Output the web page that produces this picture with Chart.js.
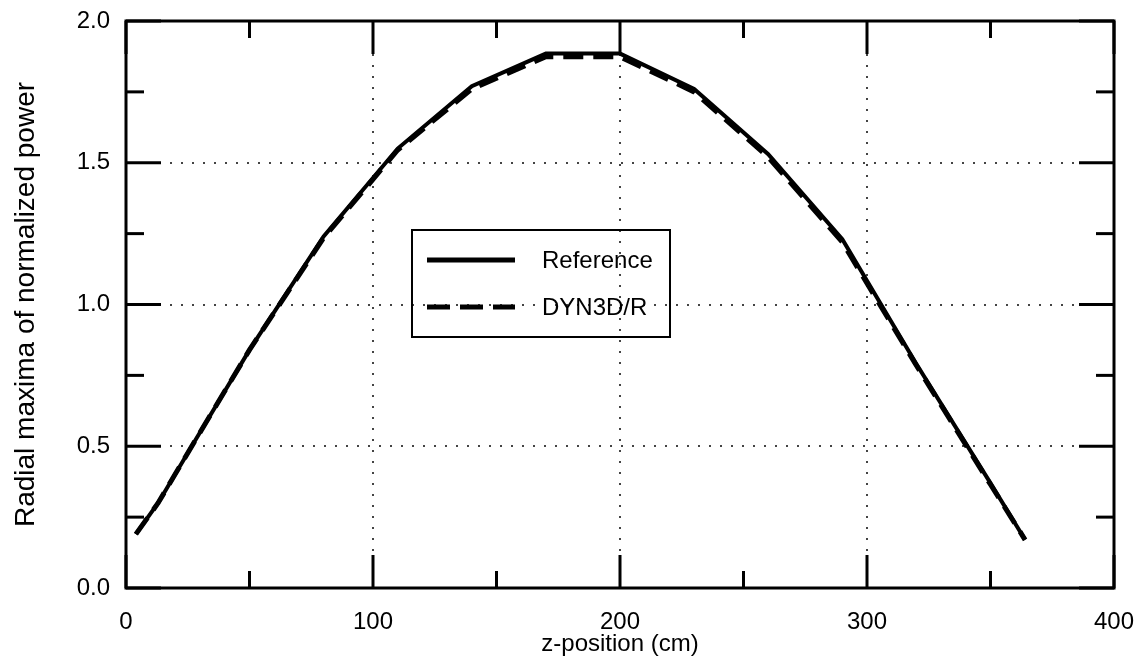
<!DOCTYPE html>
<html>
<head>
<meta charset="utf-8">
<script src="https://cdn.jsdelivr.net/npm/chart.js@4/dist/chart.umd.min.js"></script>
<style>
  html, body { margin: 0; padding: 0; background: #fff; }
  #c { display: block; }
</style>
</head>
<body>
<canvas id="c" width="1137" height="659"></canvas>
<script>
// ---- data ----
const zPositions   = [4, 13, 28, 50, 80, 110, 140, 170, 200, 230, 260, 290, 320, 350, 364];
const referenceVal = [0.19, 0.30, 0.52, 0.84, 1.24, 1.55, 1.77, 1.885, 1.885, 1.76, 1.53, 1.23, 0.79, 0.37, 0.17];
const dyn3dVal     = [0.19, 0.30, 0.52, 0.84, 1.235, 1.545, 1.76, 1.874, 1.874, 1.75, 1.52, 1.22, 0.785, 0.365, 0.17];
const seriesLabels = ["Reference", "DYN3D/R"];
const xMajorTicks  = [0, 100, 200, 300, 400];
const xMinorTicks  = [50, 150, 250, 350];
const yMajorTicks  = [0, 0.5, 1.0, 1.5, 2.0];
const yMinorTicks  = [0.25, 0.75, 1.25, 1.75];
const xGridValues  = [100, 200, 300];
const yGridValues  = [0.5, 1.0, 1.5];
const xTitle = "z-position (cm)";
const yTitle = "Radial maxima of normalized power";

const FONT = "'Liberation Sans', Arial, Helvetica, sans-serif";

function toPts(xs, ys) { return xs.map((x, i) => ({ x: x, y: ys[i] })); }

const framePlugin = {
  id: 'frame',
  beforeDatasetsDraw(chart) {
    const { ctx, chartArea: a, scales: { x, y } } = chart;
    ctx.save();
    ctx.strokeStyle = '#444';
    ctx.lineWidth = 2;
    ctx.setLineDash([2, 9]);
    xGridValues.forEach(v => {
      const px = Math.round(x.getPixelForValue(v));
      ctx.beginPath(); ctx.moveTo(px, a.top); ctx.lineTo(px, a.bottom); ctx.stroke();
    });
    yGridValues.forEach(v => {
      const py = Math.round(y.getPixelForValue(v));
      ctx.beginPath(); ctx.moveTo(a.left, py); ctx.lineTo(a.right, py); ctx.stroke();
    });
    ctx.restore();
  },
  afterDatasetsDraw(chart) {
    const { ctx, chartArea: a, scales: { x, y } } = chart;
    ctx.save();
    ctx.strokeStyle = '#000';
    ctx.setLineDash([]);
    ctx.lineWidth = 3;
    ctx.lineCap = 'butt';
    const MAJ = 33, MIN = 17;
    const vtick = (v, len) => {
      const px = x.getPixelForValue(v);
      ctx.beginPath(); ctx.moveTo(px, a.bottom); ctx.lineTo(px, a.bottom - len); ctx.stroke();
      ctx.beginPath(); ctx.moveTo(px, a.top); ctx.lineTo(px, a.top + len); ctx.stroke();
    };
    const htick = (v, len) => {
      const py = y.getPixelForValue(v);
      ctx.beginPath(); ctx.moveTo(a.left, py); ctx.lineTo(a.left + len, py); ctx.stroke();
      ctx.beginPath(); ctx.moveTo(a.right, py); ctx.lineTo(a.right - len, py); ctx.stroke();
    };
    xMajorTicks.forEach(v => vtick(v, MAJ));
    xMinorTicks.forEach(v => vtick(v, MIN));
    yMajorTicks.forEach(v => htick(v, MAJ + 2));
    yMinorTicks.forEach(v => htick(v, MIN + 1));
    ctx.strokeRect(a.left, a.top, a.right - a.left, a.bottom - a.top);

    // legend box
    const bx = 412, by = 230, bw = 258, bh = 107;
    ctx.lineWidth = 2;
    ctx.strokeRect(bx, by, bw, bh);
    const rows = [260, 307];
    chart.data.datasets.forEach((ds, i) => {
      ctx.save();
      ctx.lineWidth = 5;
      ctx.strokeStyle = ds.borderColor;
      ctx.setLineDash(ds.borderDash && ds.borderDash.length ? [23, 10] : []);
      ctx.beginPath(); ctx.moveTo(427, rows[i]); ctx.lineTo(515, rows[i]); ctx.stroke();
      ctx.restore();
      ctx.fillStyle = '#000';
      ctx.font = '24px ' + FONT;
      ctx.textBaseline = 'middle';
      ctx.textAlign = 'left';
      ctx.fillText(ds.label, 542, rows[i] + 1);
    });
    ctx.restore();
  }
};

new Chart(document.getElementById('c'), {
  type: 'line',
  data: {
    datasets: [
      {
        label: seriesLabels[0],
        data: toPts(zPositions, referenceVal),
        borderColor: '#000',
        borderWidth: 4,
        pointRadius: 0,
        tension: 0,
        fill: false
      },
      {
        label: seriesLabels[1],
        data: toPts(zPositions, dyn3dVal),
        borderColor: '#000',
        borderWidth: 5,
        borderDash: [20, 10],
        pointRadius: 0,
        tension: 0,
        fill: false
      }
    ]
  },
  options: {
    responsive: false,
    animation: false,
    devicePixelRatio: 1,
    layout: { padding: { left: 0, top: 21, right: 23, bottom: 0 } },
    plugins: { legend: { display: false }, tooltip: { enabled: false } },
    scales: {
      x: {
        type: 'linear',
        min: 0, max: 400,
        afterBuildTicks: s => { s.ticks = xMajorTicks.map(v => ({ value: v })); },
        afterFit: s => { s.height = 71; s.paddingLeft = 0; s.paddingRight = 0; },
        grid: { display: false, drawTicks: false },
        border: { display: false },
        ticks: { color: '#000', padding: 20, font: { family: FONT, size: 24 }, maxRotation: 0 },
        title: { display: true, text: xTitle, color: '#000', font: { family: FONT, size: 24 }, padding: { top: 0, bottom: 0 } }
      },
      y: {
        type: 'linear',
        min: 0, max: 2,
        afterBuildTicks: s => { s.ticks = yMajorTicks.map(v => ({ value: v })); },
        afterFit: s => { s.width = 126; s.paddingTop = 0; s.paddingBottom = 0; },
        grid: { display: false, drawTicks: false },
        border: { display: false },
        ticks: { color: '#000', padding: 16, font: { family: FONT, size: 24 }, callback: v => Number(v).toFixed(1) },
        title: { display: true, text: yTitle, color: '#000', font: { family: FONT, size: 28 }, padding: { top: 9, bottom: 0 } }
      }
    }
  },
  plugins: [framePlugin]
});
</script>
</body>
</html>
